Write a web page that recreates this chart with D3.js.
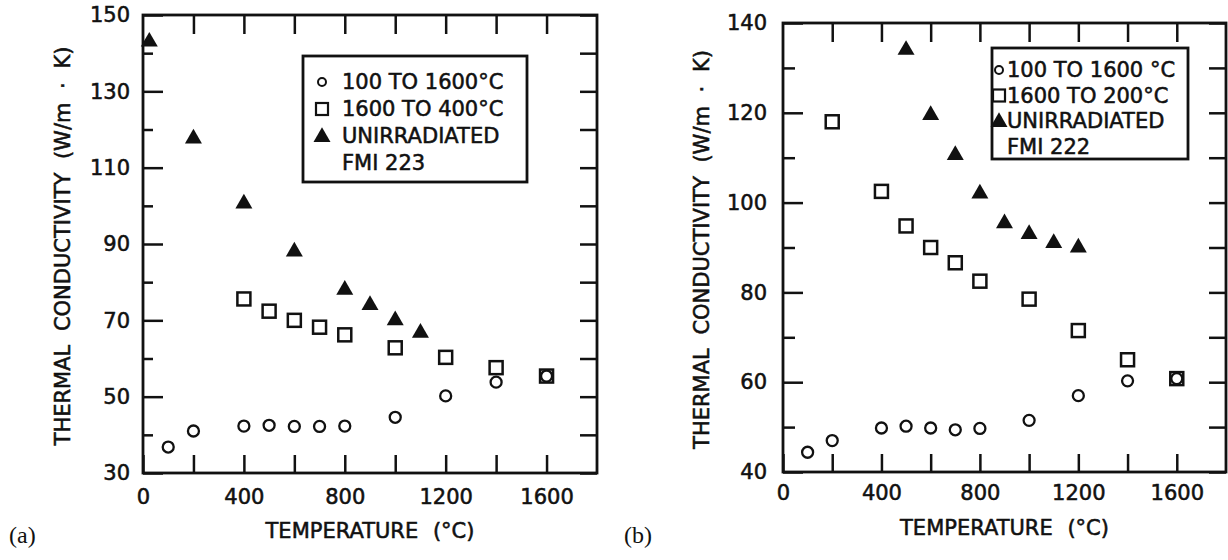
<!doctype html>
<html>
  <head>
    <meta charset="utf-8">
    <title>Thermal conductivity vs temperature</title>
    <script src="https://cdnjs.cloudflare.com/ajax/libs/d3/7.8.5/d3.min.js"></script>
    <style>
      body { margin: 0; background: #fff; }
      svg text { font-family: "DejaVu Sans", sans-serif; fill: #111; stroke: #111; stroke-width: 0.55px; }
      .tick line { stroke: #111; stroke-width: 2.5; }
      .tick text { font-size: 21px; }
    </style>
  </head>
  <body>
    <div id="chart"></div>
    <script>
      // x axis ticks (shared by both panels)
      const xTicksLabeled = [0, 400, 800, 1200, 1600];
      const xTicksMinor = [200, 600, 1000, 1400];

      // panel (a) - FMI 223
      const aYLabeled = [30, 50, 70, 90, 110, 130, 150];
      const aYMinor = [40, 60, 80, 100, 120, 140];
      const aCircleT = [100, 200, 400, 500, 600, 700, 800, 1000, 1200, 1400, 1600];
      const aCircleK = [36.8, 41, 42.3, 42.5, 42.2, 42.2, 42.3, 44.6, 50.2, 53.8, 55.4];
      const aSquareT = [400, 500, 600, 700, 800, 1000, 1200, 1400, 1600];
      const aSquareK = [75.6, 72.4, 70, 68.2, 66.2, 62.8, 60.3, 57.6, 55.4];
      const aTriT = [25, 200, 400, 600, 800, 900, 1000, 1100];
      const aTriK = [143, 117.6, 100.6, 88, 78, 74, 70, 66.7];
      const aLegend = ['100 TO 1600\u00B0C', '1600 TO 400\u00B0C', 'UNIRRADIATED', 'FMI 223'];

      // panel (b) - FMI 222
      const bYLabeled = [40, 60, 80, 100, 120, 140];
      const bYMinor = [50, 70, 90, 110, 130];
      const bCircleT = [100, 200, 400, 500, 600, 700, 800, 1000, 1200, 1400, 1600];
      const bCircleK = [44.4, 47, 49.8, 50.2, 49.8, 49.4, 49.7, 51.5, 57, 60.3, 60.8];
      const bSquareT = [200, 400, 500, 600, 700, 800, 1000, 1200, 1400, 1600];
      const bSquareK = [118, 102.5, 94.8, 90, 86.6, 82.5, 78.5, 71.5, 65, 60.8];
      const bTriT = [500, 600, 700, 800, 900, 1000, 1100, 1200];
      const bTriK = [134, 119.5, 110.6, 102, 95.4, 93, 91, 90];
      const bLegend = ['100 TO 1600 \u00B0C', '1600 TO 200\u00B0C', 'UNIRRADIATED', 'FMI 222'];

      const yTitle = 'THERMAL  CONDUCTIVITY  (W/m \u00B7 K)';
      const xTitle = 'TEMPERATURE (\u00B0C)';

      const svg = d3.select('#chart').append('svg')
        .attr('width', 1228)
        .attr('height', 560);

      const tri = d3.symbol(d3.symbolTriangle, 125);

      function drawPanel(p) {
        const g = svg.append('g');
        const x = d3.scaleLinear().domain([0, 1800]).range([p.left, p.right]);
        const y = d3.scaleLinear().domain(p.yDomain).range([p.bottom, p.top]);
        const fmt = d => xTicksLabeled.includes(d) ? d : '';

        // bottom + top axes, ticks pointing in
        g.append('g').attr('transform', `translate(0,${p.bottom})`)
          .call(d3.axisBottom(x).tickValues(xTicksLabeled.concat(xTicksMinor))
            .tickSizeInner(-18).tickSizeOuter(0).tickPadding(p.xPad).tickFormat(fmt));
        g.append('g').attr('transform', `translate(0,${p.top})`)
          .call(d3.axisTop(x).tickValues(xTicksMinor.concat(xTicksLabeled.slice(1)))
            .tickSizeInner(-19).tickSizeOuter(0).tickFormat(''));

        // left axis: long ticks at labels, short ones between
        g.append('g').attr('transform', `translate(${p.left},0)`)
          .call(d3.axisLeft(y).tickValues(p.yLabeled)
            .tickSizeInner(-20).tickSizeOuter(0).tickPadding(p.yPad));
        g.append('g').attr('transform', `translate(${p.left},0)`)
          .call(d3.axisLeft(y).tickValues(p.yMinor)
            .tickSizeInner(-p.minorLen).tickSizeOuter(0).tickFormat(''));
        g.append('g').attr('transform', `translate(${p.right},0)`)
          .call(d3.axisRight(y).tickValues(p.yLabeled.concat(p.yMinor))
            .tickSizeInner(-17).tickSizeOuter(0).tickFormat(''));

        g.selectAll('.domain').remove();

        // frame
        g.append('rect')
          .attr('x', p.left).attr('y', p.top)
          .attr('width', p.right - p.left).attr('height', p.bottom - p.top)
          .attr('fill', 'none').attr('stroke', '#111').attr('stroke-width', 2.8);

        // titles
        g.append('text')
          .attr('x', (p.left + p.right) / 2).attr('y', p.xTitleY)
          .attr('text-anchor', 'middle').style('font-size', '21px')
          .style('word-spacing', '8px')
          .text(xTitle);
        g.append('text')
          .attr('transform', `translate(${p.yTitleX},${(p.top + p.bottom) / 2 + 2}) rotate(-90)`)
          .attr('text-anchor', 'middle').style('font-size', '21px')
          .style('word-spacing', '7px')
          .text(yTitle);
        g.append('text')
          .attr('x', p.tagX).attr('y', 543)
          .style('font-family', '"Liberation Serif", serif').style('font-size', '24px')
          .style('stroke-width', '0px')
          .text(p.tag);

        // data
        g.selectAll('circle.pt').data(p.circleT).join('circle')
          .attr('class', 'pt')
          .attr('cx', d => x(d)).attr('cy', (d, i) => y(p.circleK[i]))
          .attr('r', 5.5).attr('fill', 'white').attr('stroke', '#111').attr('stroke-width', 2.3);
        g.selectAll('rect.pt').data(p.squareT).join('rect')
          .attr('class', 'pt')
          .attr('x', d => x(d) - 6.5).attr('y', (d, i) => y(p.squareK[i]) - 6.5)
          .attr('width', 13).attr('height', 13)
          .attr('fill', 'none').attr('stroke', '#111').attr('stroke-width', 2.5);
        g.selectAll('path.pt').data(p.triT).join('path')
          .attr('class', 'pt')
          .attr('transform', (d, i) => `translate(${x(d)},${y(p.triK[i])})`)
          .attr('d', tri).attr('fill', '#111');

        // legend
        const L = p.legend;
        g.append('rect')
          .attr('x', L.x).attr('y', L.y).attr('width', L.w).attr('height', L.h)
          .attr('fill', 'white').attr('stroke', '#111').attr('stroke-width', 2.8);
        g.selectAll('text.lg').data(p.legendText).join('text')
          .attr('class', 'lg')
          .attr('x', L.tx).attr('y', (d, i) => L.base + i * L.step)
          .style('font-size', '21px')
          .text(d => d);
        const my = i => L.base + i * L.step - 7;
        g.append('circle').attr('cx', L.mx).attr('cy', my(0)).attr('r', 4)
          .attr('fill', 'none').attr('stroke', '#111').attr('stroke-width', 2);
        g.append('rect').attr('x', L.mx - 6).attr('y', my(1) - 6).attr('width', 12).attr('height', 12)
          .attr('fill', 'none').attr('stroke', '#111').attr('stroke-width', 2.2);
        g.append('path').attr('transform', `translate(${L.mx},${my(2) + 1})`)
          .attr('d', tri).attr('fill', '#111');
      }

      drawPanel({
        left: 143, right: 597, top: 15, bottom: 473, yDomain: [30, 150],
        yLabeled: aYLabeled, yMinor: aYMinor, minorLen: 10,
        xPad: 16, yPad: 13, xTitleY: 538, yTitleX: 70, tag: '(a)', tagX: 9,
        circleT: aCircleT, circleK: aCircleK, squareT: aSquareT, squareK: aSquareK,
        triT: aTriT, triK: aTriK,
        legendText: aLegend,
        legend: { x: 303, y: 56, w: 224, h: 126, tx: 342, mx: 322, base: 89, step: 27 }
      });

      drawPanel({
        left: 783, right: 1226, top: 23, bottom: 472, yDomain: [40, 140],
        yLabeled: bYLabeled, yMinor: bYMinor, minorLen: 12,
        xPad: 13, yPad: 16, xTitleY: 535, yTitleX: 709, tag: '(b)', tagX: 624,
        circleT: bCircleT, circleK: bCircleK, squareT: bSquareT, squareK: bSquareK,
        triT: bTriT, triK: bTriK,
        legendText: bLegend,
        legend: { x: 992, y: 48, w: 196, h: 111, tx: 1007, mx: 999, base: 77, step: 25.5 }
      });
    </script>
  </body>
</html>
